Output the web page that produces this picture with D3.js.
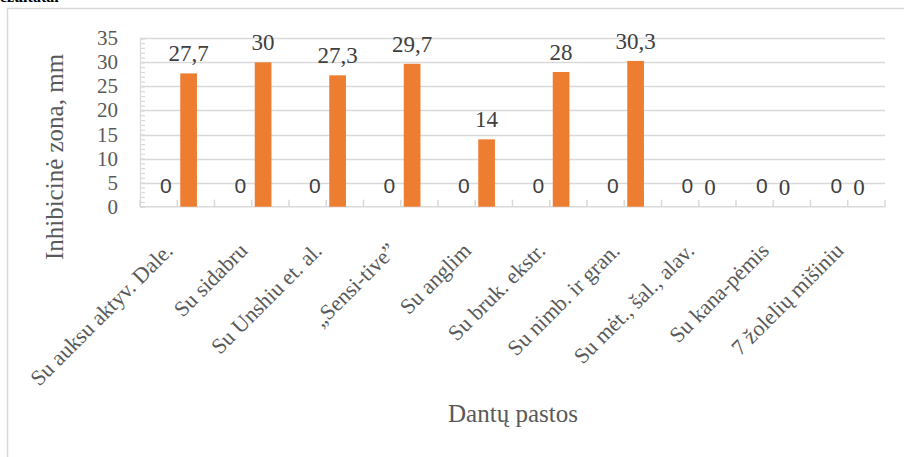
<!DOCTYPE html>
<html>
<head>
<meta charset="utf-8">
<script src="https://cdn.jsdelivr.net/npm/d3@7/dist/d3.min.js"></script>
<style>
  html, body { margin: 0; padding: 0; background: #fff; }
  svg { display: block; }
</style>
</head>
<body>
<svg id="chart" width="904" height="457"></svg>
<script>
// Inhibition zone (mm) for each toothpaste
const categories = [
  "Su auksu aktyv. Dale.",
  "Su sidabru",
  "Su Unshiu et. al.",
  "„Sensi-tive”",
  "Su anglim",
  "Su bruk. ekstr.",
  "Su nimb. ir gran.",
  "Su mėt., šal., alav.",
  "Su kana-pėmis",
  "7 žolelių mišiniu"
];
const controlValues = [0, 0, 0, 0, 0, 0, 0, 0, 0, 0];
const zoneValues = [27.7, 30, 27.3, 29.7, 14, 28, 30.3, 0, 0, 0];
const yTicks = [0, 5, 10, 15, 20, 25, 30, 35];
const yTitle = "Inhibicinė zona, mm";
const xTitle = "Dantų pastos";

const svg = d3.select("#chart");
const fmt = v => String(v).replace(".", ",");

// heading line of the surrounding text, mostly above the view
svg.append("text")
  .attr("x", 0).attr("y", 2)
  .attr("font-family", "Liberation Serif").attr("font-weight", "bold")
  .attr("font-size", 16).attr("fill", "#000")
  .text("ezultatai");

// chart frame
svg.append("rect")
  .attr("x", 7.5).attr("y", 8.5).attr("width", 1000).attr("height", 600)
  .attr("fill", "#fff").attr("stroke", "#d9d9d9").attr("stroke-width", 1.5);

const plotLeft = 140, plotRight = 885, plotTop = 38.3, plotBottom = 206.7;

const x = d3.scaleBand().domain(categories).range([plotLeft, plotRight]);
const y = d3.scaleLinear().domain([0, 35]).range([plotBottom, plotTop]);

// gridlines
svg.append("g")
  .selectAll("line").data(yTicks.filter(t => t > 0)).join("line")
  .attr("x1", plotLeft).attr("x2", plotRight)
  .attr("y1", d => Math.round(y(d)) + 0.5).attr("y2", d => Math.round(y(d)) + 0.5)
  .attr("stroke", "#d9d9d9").attr("stroke-width", 1.5);

// value axis with minor ticks pointing into the plot
const yAxis = d3.axisRight(y).ticks(35).tickSize(5).tickFormat("");
const gy = svg.append("g").attr("transform", `translate(${plotLeft},0)`).call(yAxis);
gy.selectAll("path, line").attr("stroke", "#d9d9d9").attr("stroke-width", 1.2);

// category axis line with tick marks every half band
const half = x.bandwidth() / 2;
const catTicks = d3.range(0, categories.length * 2 + 1).map(i => plotLeft + i * half);
svg.append("line")
  .attr("x1", plotLeft).attr("x2", plotRight)
  .attr("y1", plotBottom).attr("y2", plotBottom)
  .attr("stroke", "#d9d9d9").attr("stroke-width", 1.5);
svg.append("g").selectAll("line").data(catTicks).join("line")
  .attr("x1", d => d).attr("x2", d => d)
  .attr("y1", plotBottom).attr("y2", plotBottom - 7)
  .attr("stroke", "#d9d9d9").attr("stroke-width", 1.5);

// y tick labels
svg.append("g").selectAll("text").data(yTicks).join("text")
  .attr("x", 118).attr("y", d => y(d) + 7)
  .attr("text-anchor", "end")
  .attr("font-family", "Liberation Serif").attr("font-size", 21)
  .attr("fill", "#595959")
  .text(d => d);

// bar positions inside each band
const barW = 16.7;
const offset = 3;

// control series (all zero) bars and labels
svg.append("g").selectAll("rect").data(controlValues).join("rect")
  .attr("x", (d, i) => x(categories[i]) + half - offset - barW)
  .attr("y", d => y(d))
  .attr("width", barW)
  .attr("height", d => plotBottom - y(d))
  .attr("fill", "#4472c4");
svg.append("g").selectAll("text").data(controlValues).join("text")
  .attr("x", (d, i) => x(categories[i]) + half - offset - barW / 2)
  .attr("y", d => y(d) - 14)
  .attr("text-anchor", "middle")
  .attr("font-family", "Liberation Sans").attr("font-size", 21)
  .attr("fill", "#404040")
  .text(d => fmt(d));

// inhibition zone bars
svg.append("g").selectAll("rect").data(zoneValues).join("rect")
  .attr("x", (d, i) => x(categories[i]) + half + offset)
  .attr("y", d => y(d))
  .attr("width", barW)
  .attr("height", d => plotBottom - y(d))
  .attr("fill", "#ed7d31");
svg.append("g").selectAll("text").data(zoneValues).join("text")
  .attr("x", (d, i) => x(categories[i]) + half + offset + barW / 2)
  .attr("y", d => y(d) - 12)
  .attr("text-anchor", "middle")
  .attr("font-family", "Liberation Serif").attr("font-size", 23)
  .attr("fill", "#404040")
  .text(d => fmt(d));

// rotated category labels
svg.append("g").selectAll("text").data(categories).join("text")
  .attr("transform", d => `translate(${x(d) + half - 3},252) rotate(-45)`)
  .attr("text-anchor", "end")
  .attr("font-family", "Liberation Serif").attr("font-size", 22)
  .attr("fill", "#595959")
  .text(d => d);

// axis titles
svg.append("text")
  .attr("transform", "translate(63,157) rotate(-90)")
  .attr("text-anchor", "middle")
  .attr("font-family", "Liberation Serif").attr("font-size", 25)
  .attr("fill", "#595959")
  .text(yTitle);

svg.append("text")
  .attr("x", 513).attr("y", 422)
  .attr("text-anchor", "middle")
  .attr("font-family", "Liberation Serif").attr("font-size", 25)
  .attr("fill", "#595959")
  .text(xTitle);
</script>
</body>
</html>
